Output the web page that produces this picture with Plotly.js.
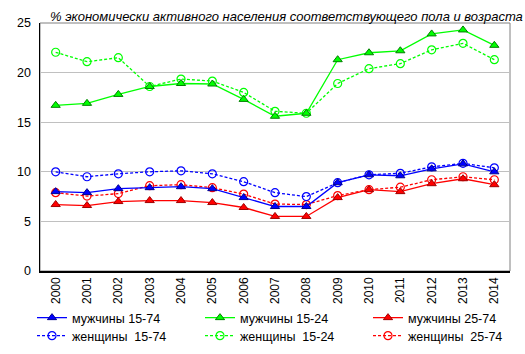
<!DOCTYPE html>
<html>
<head>
<meta charset="utf-8">
<script src="https://cdn.plot.ly/plotly-3.0.1.min.js"></script>
<style>html,body{margin:0;padding:0;background:#fff;}#chart{width:525px;height:354px;}</style>
</head>
<body>
<div id="chart"></div>
<script>
const years = ['2000','2001','2002','2003','2004','2005','2006','2007','2008','2009','2010','2011','2012','2013','2014'];
const men1574   = [8.0, 7.9, 8.3, 8.4, 8.5, 8.3, 7.4, 6.5, 6.5, 8.9, 9.7, 9.6, 10.3, 10.8, 10.0];
const men1524   = [16.7, 16.9, 17.8, 18.6, 18.9, 18.85, 17.3, 15.6, 15.9, 21.3, 22.0, 22.2, 23.9, 24.3, 22.75];
const men2574   = [6.7, 6.6, 7.0, 7.1, 7.1, 6.9, 6.4, 5.5, 5.5, 7.4, 8.2, 8.0, 8.8, 9.3, 8.7];
const women1574 = [10.0, 9.5, 9.8, 10.0, 10.1, 9.8, 9.0, 7.9, 7.5, 8.9, 9.7, 9.85, 10.5, 10.85, 10.4];
const women1524 = [22.05, 21.1, 21.5, 18.6, 19.35, 19.15, 18.0, 16.1, 15.9, 18.9, 20.4, 20.9, 22.3, 22.95, 21.3];
const women2574 = [7.9, 7.55, 7.8, 8.6, 8.7, 8.4, 7.75, 6.75, 6.7, 7.6, 8.2, 8.45, 9.2, 9.5, 9.2];
const names = ['мужчины 15-74','мужчины 15-24','мужчины 25-74','женщины\u00a0 15-74','женщины\u00a0 15-24','женщины\u00a0 25-74'];
const yTicks = [0,5,10,15,20,25];

function men(y, name, color, edge, leg){
  return {x: years, y: y, name: name, type:'scatter', mode:'lines+markers', legend: leg,
    line:{color: color, width:1.3},
    marker:{symbol:'triangle-up', size:8, color: color, line:{color: edge, width:1}}};
}
function women(y, name, color, leg){
  return {x: years, y: y, name: name, type:'scatter', mode:'lines+markers', legend: leg,
    line:{color: color, width:1.3, dash:'3px,2px'},
    marker:{symbol:'circle-open', size:8, color: color, line:{color: color, width:1.2}}};
}
const data = [
  women(women2574, names[5], '#ff0000', 'legend6'),
  men(men2574, names[2], '#ff0000', '#a00000', 'legend3'),
  women(women1524, names[4], '#00ff00', 'legend5'),
  men(men1524, names[1], '#00ff00', '#008000', 'legend2'),
  women(women1574, names[3], '#0000ff', 'legend4'),
  men(men1574, names[0], '#0000ff', '#000090', 'legend')
];
function leg(px, py){
  return {orientation:'h', xref:'container', yref:'container', x:px/525, y:1-py/354, xanchor:'left', yanchor:'middle',
    font:{family:'Liberation Sans, Arial', size:12.5, color:'#000'}, bgcolor:'rgba(0,0,0,0)', itemwidth:30};
}
const layout = {
  width:525, height:354,
  margin:{l:40, r:15, t:23, b:83},
  paper_bgcolor:'#fff', plot_bgcolor:'#fff',
  font:{family:'Liberation Sans, Arial', size:12, color:'#000'},
  showlegend:true,
  title:{text:'% экономически активного населения соответствующего пола и возраста',
    font:{family:'Liberation Sans, Arial', size:13, style:'italic', color:'#000'},
    x:50/525, xref:'container', xanchor:'left', y:1-16/354, yref:'container', yanchor:'middle'},
  xaxis:{type:'category', range:[-0.5,14.5], tickangle:-90, showline:true, linecolor:'#000', linewidth:1.5,
    showgrid:false, zeroline:false, ticks:'', tickfont:{size:12}, fixedrange:true},
  yaxis:{range:[0,25], tickvals:yTicks, showline:true, linecolor:'#000', linewidth:1.5,
    showgrid:true, gridcolor:'#c0c0c0', gridwidth:1, zeroline:false, ticks:'', tickfont:{size:12.5},
    ticklabelstandoff:5, fixedrange:true},
  shapes:[{type:'rect', xref:'paper', yref:'paper', x0:0, x1:1, y0:0, y1:1, line:{color:'#808080', width:1}, layer:'below'}],
  legend: leg(32, 318), legend2: leg(200, 318), legend3: leg(368, 318),
  legend4: leg(32, 336), legend5: leg(200, 336), legend6: leg(368, 336)
};
Plotly.newPlot('chart', data, layout, {displayModeBar:false, staticPlot:true});
</script>
</body>
</html>
